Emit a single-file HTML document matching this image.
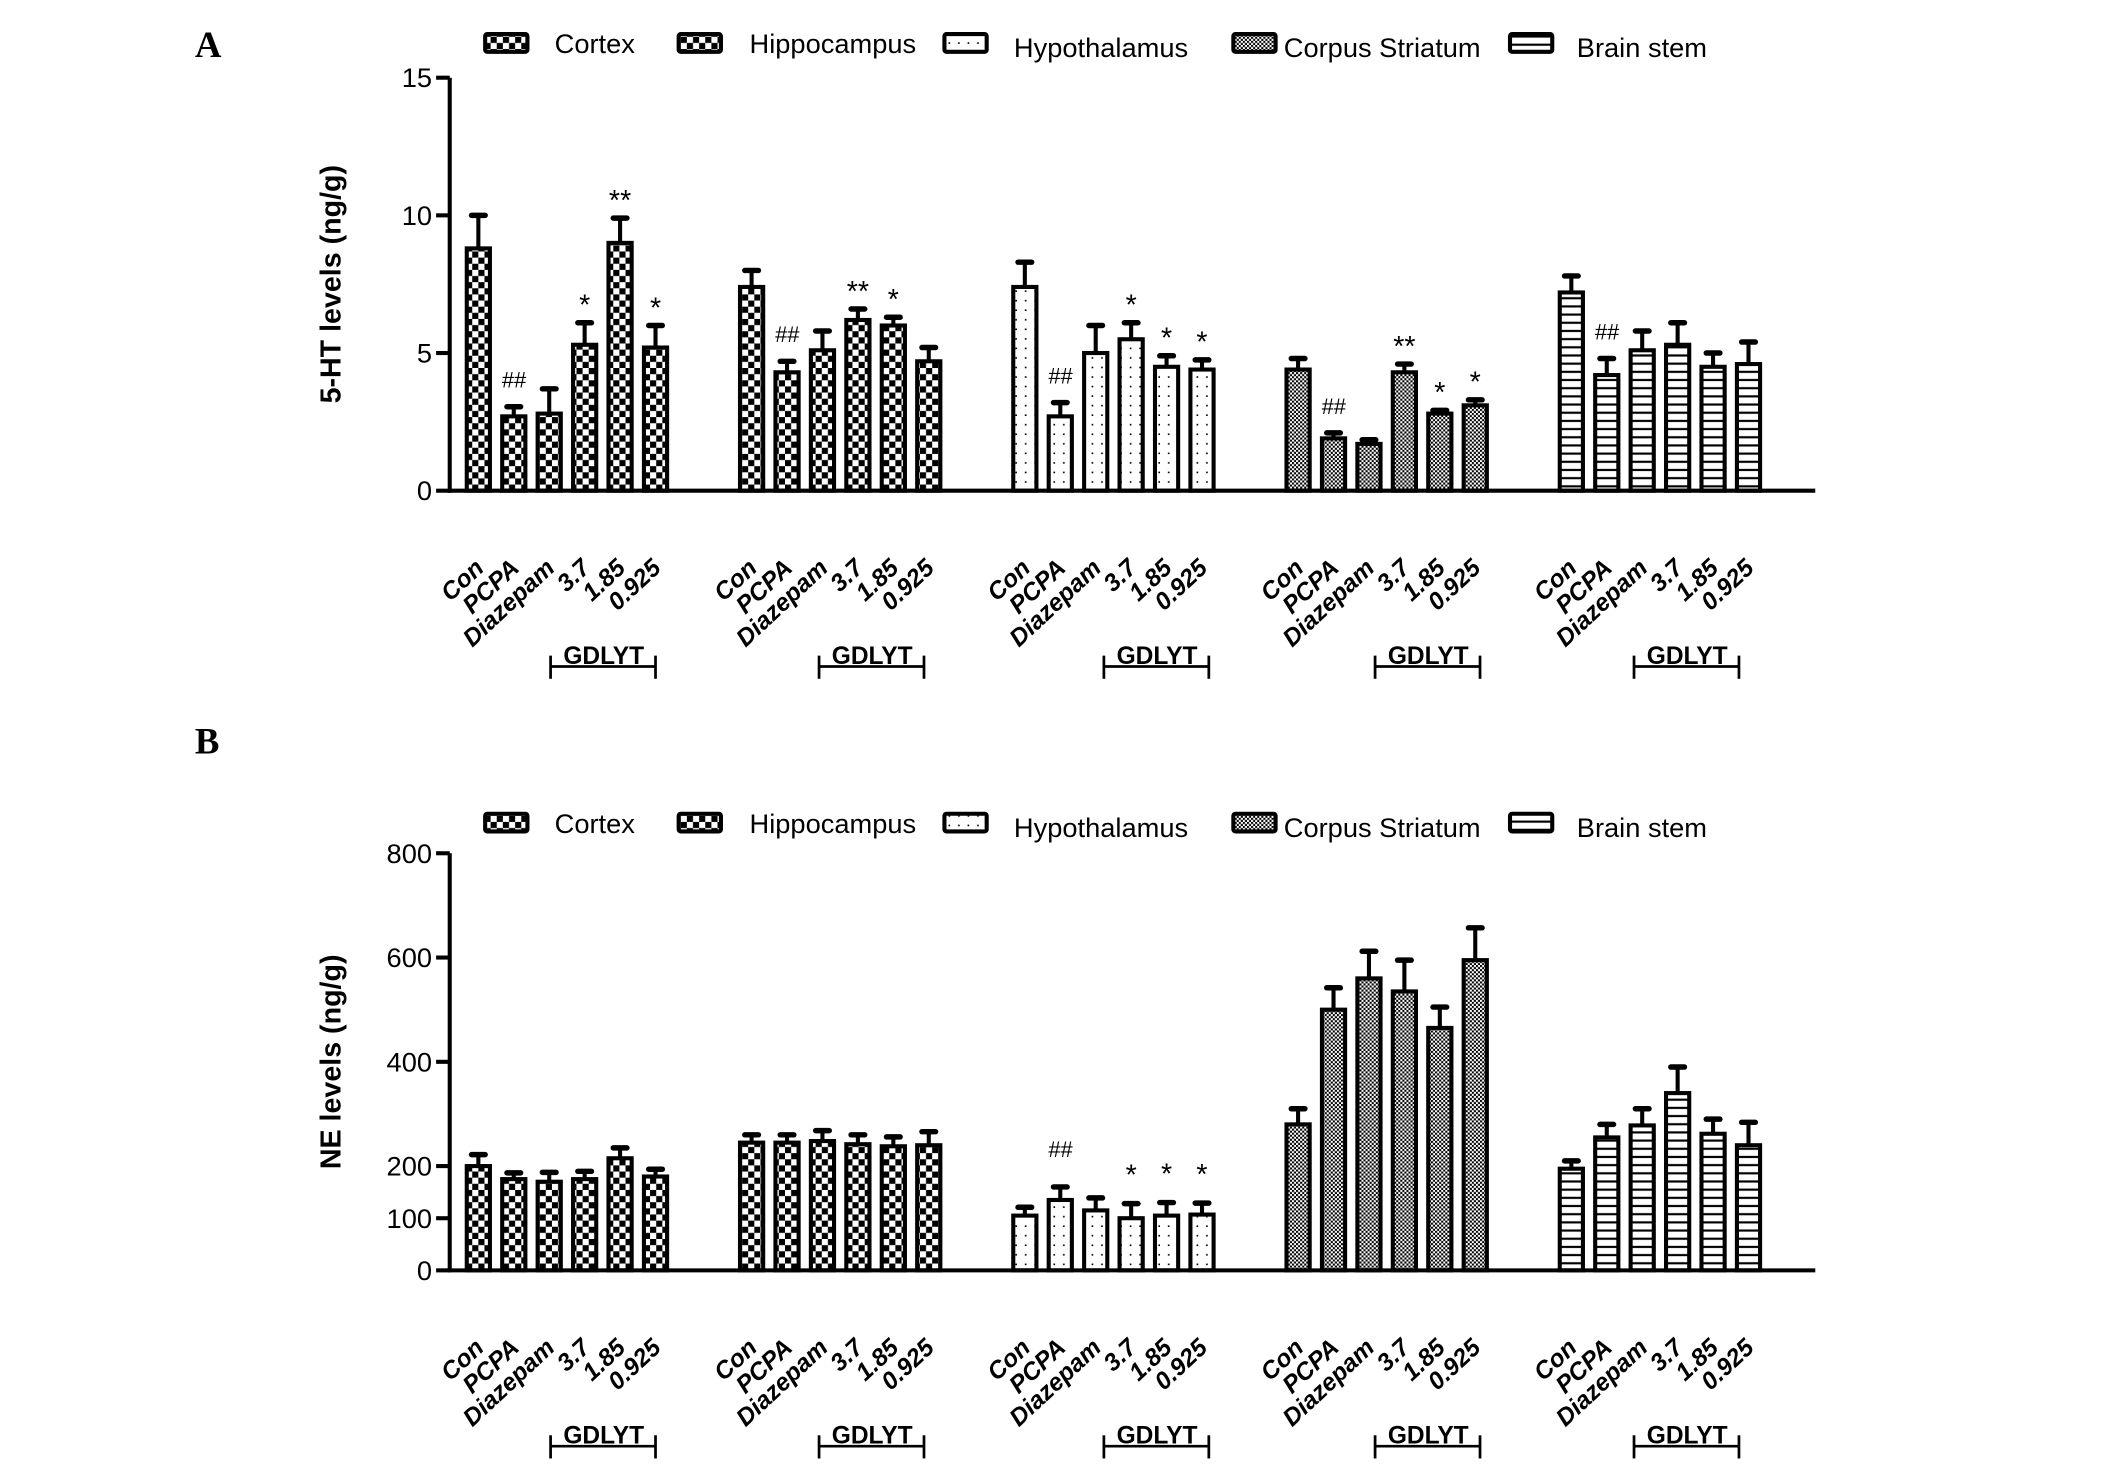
<!DOCTYPE html>
<html><head><meta charset="utf-8"><style>
html,body{margin:0;padding:0;background:#fff;}
svg{display:block;}
text{font-family:"Liberation Sans",Arial,sans-serif;fill:#000;}
</style></head><body>
<svg id="fig" width="2126" height="1468" viewBox="0 0 1560 1077" preserveAspectRatio="none" xmlns="http://www.w3.org/2000/svg">
<defs>
<pattern id="p0" width="9" height="9" patternUnits="userSpaceOnUse"><rect width="9" height="9" fill="#fff"/><rect x="0" y="0" width="4.5" height="4.5" fill="#000"/><rect x="4.5" y="4.5" width="4.5" height="4.5" fill="#000"/></pattern>
<pattern id="p1" width="9" height="9" patternUnits="userSpaceOnUse"><rect width="9" height="9" fill="#000"/><rect x="0" y="0" width="4.5" height="4.5" fill="#fff"/><rect x="4.5" y="4.5" width="4.5" height="4.5" fill="#fff"/></pattern>
<pattern id="p2" width="7" height="7" patternUnits="userSpaceOnUse"><rect width="7" height="7" fill="#fff"/><rect x="3" y="3" width="1.2" height="1.2" fill="#000"/></pattern>
<pattern id="p3" width="3" height="3" patternUnits="userSpaceOnUse"><rect width="3" height="3" fill="#fff"/><rect width="1.5" height="1.5" fill="#000"/><rect x="1.5" y="1.5" width="1.5" height="1.5" fill="#000"/></pattern>
<pattern id="p4" width="6" height="6" patternUnits="userSpaceOnUse"><rect width="6" height="6" fill="#fff"/><rect y="2" width="6" height="1.6" fill="#000"/></pattern>
</defs>
<g id="root"></g>
</svg>
<script>
const regions = ["Cortex","Hippocampus","Hypothalamus","Corpus Striatum","Brain stem"];
const groupsLabels = ["Con","PCPA","Diazepam","3.7","1.85","0.925"];
const htMeans = [[8.8,2.7,2.8,5.3,9.0,5.2],[7.4,4.3,5.1,6.2,6.0,4.7],[7.4,2.7,5.0,5.5,4.5,4.4],[4.4,1.9,1.7,4.3,2.8,3.1],[7.2,4.2,5.1,5.3,4.5,4.6]];
const htErr = [[1.2,0.35,0.9,0.8,0.9,0.8],[0.6,0.4,0.7,0.4,0.3,0.5],[0.9,0.5,1.0,0.6,0.4,0.35],[0.4,0.2,0.15,0.3,0.12,0.2],[0.6,0.6,0.7,0.8,0.5,0.8]];
const htSig = [["","##","","*","**","*"],["","##","","**","*",""],["","##","","*","*","*"],["","##","","**","*","*"],["","##","","","",""]];
const htTicks = [0,5,10,15];
const neMeans = [[200,175,170,175,215,180],[245,245,248,242,238,240],[105,135,115,100,105,107],[280,500,560,535,465,595],[195,255,278,340,262,240]];
const neErr = [[22,12,18,15,20,14],[15,15,20,18,18,26],[16,25,24,28,25,22],[30,42,52,60,40,62],[15,25,32,50,28,44]];
const neSig = [["","","","","",""],["","","","","",""],["","##","","*","*","*"],["","","","","",""],["","","","","",""]];
const neTicks = [0,100,200,400,600,800];

const NS="http://www.w3.org/2000/svg";
const root=document.getElementById('root');
function el(tag,attrs,parent,txt){const e=document.createElementNS(NS,tag);for(const k in attrs)e.setAttribute(k,attrs[k]);if(txt!==undefined)e.textContent=txt;(parent||root).appendChild(e);return e;}
const bracketX=[404,601,810,1009,1199];

function panel(opt){
  const g=el('g',{});
  
  
  const y=v=>opt.y0-(v/opt.max)*(opt.y0-opt.yTop);
  const x=(gi,i)=>351+200.5*gi+26*i;
  const L=el('text',{x:143,y:opt.letterY,'font-size':27,'font-weight':'bold',style:'font-family:"Liberation Serif",serif'},g,opt.letter);
  
  const sw=[356,498,693,905,1108], tx=[407,550,744,942,1157];
  regions.forEach((r,i)=>{
    const lg=el('g',{},g);
    
    el('rect',{x:sw[i],y:opt.legY-8,width:31,height:13,fill:'url(#p'+i+')',stroke:'#000','stroke-width':3,rx:1.5},lg);
    el('text',{x:tx[i],y:opt.legY+6+(i>1?3:0),'font-size':20},lg,r);
  });
  opt.means.forEach((row,gi)=>{
    row.forEach((v,i)=>{
      const cx=x(gi,i), top=y(v), et=y(v+opt.err[gi][i]);
      const b=el('g',{},g);
      
      
      el('line',{x1:cx,x2:cx,y1:top,y2:et,stroke:'#000','stroke-width':3},b);
      el('line',{x1:cx-5,x2:cx+5,y1:et,y2:et,stroke:'#000','stroke-width':4,'stroke-linecap':'round'},b);
      el('rect',{x:cx-8.5,y:top,width:17,height:opt.y0-top,fill:'url(#p'+gi+')',stroke:'#000','stroke-width':3},b);
      const s=opt.sig[gi][i];
      if(s){const t=el('text',{x:cx,y:et-(s[0]=='#'?14:6)-(opt.sigExtra||0),'font-size':s[0]=='#'?16:21,'text-anchor':'middle','font-style':s[0]=='#'?'italic':'normal'},b,s);
        }
      const lb=el('text',{x:0,y:0,'font-size':18,'font-weight':'bold','font-style':'italic','text-anchor':'end',transform:`translate(${cx+5},${opt.y0+58}) rotate(-43)`},g,groupsLabels[i]);
      
    });
    const bx=bracketX[gi], by=opt.y0+129;
    const br=el('g',{},g);
    
    el('line',{x1:bx,x2:bx+77,y1:by,y2:by,stroke:'#000','stroke-width':2},br);
    el('line',{x1:bx,x2:bx,y1:by-8,y2:by+9,stroke:'#000','stroke-width':2},br);
    el('line',{x1:bx+77,x2:bx+77,y1:by-8,y2:by+9,stroke:'#000','stroke-width':2},br);
    el('text',{x:bx+39,y:by-2,'font-size':18,'font-weight':'bold','text-anchor':'middle'},br,'GDLYT');
  });
  const ax=el('g',{},g);
  el('line',{x1:330,x2:330,y1:opt.yTop,y2:opt.y0+1.5,stroke:'#000','stroke-width':3},ax);
  opt.ticks.forEach(t=>{
    el('line',{x1:320,x2:330,y1:y(t),y2:y(t),stroke:'#000','stroke-width':3},ax);
    el('text',{x:317,y:y(t)+7,'font-size':20,'text-anchor':'end'},ax,String(t));
  });
  const xa=el('line',{x1:328.5,x2:1332,y1:opt.y0,y2:opt.y0,stroke:'#000','stroke-width':3},g);
  
  const yt=el('text',{x:0,y:0,'font-size':21,'font-weight':'bold','text-anchor':'middle',transform:`translate(250,${(opt.yTop+opt.y0)/2}) rotate(-90)`},g,opt.title);
  
}
panel({name:'panel-a-5ht',letter:'A',letterY:42,legY:33,y0:360,yTop:57,max:15,ticks:htTicks,means:htMeans,err:htErr,sig:htSig,title:'5-HT levels (ng/g)'});
panel({name:'panel-b-ne',letter:'B',letterY:553,legY:605,y0:932,yTop:626,max:800,ticks:neTicks,means:neMeans,err:neErr,sig:neSig,title:'NE levels (ng/g)',sigExtra:8});
</script>
</body></html>
